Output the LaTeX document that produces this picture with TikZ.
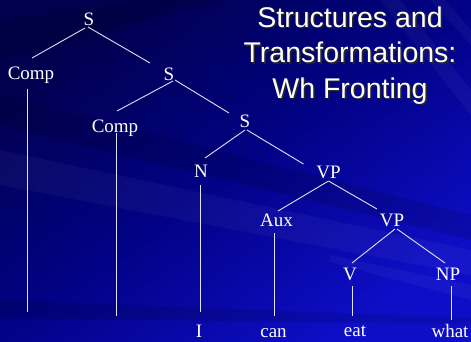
\documentclass[tikz,border=0pt]{standalone}
\usepackage{fontspec}
\setmainfont{Liberation Serif}
\newfontfamily\titlefont{Liberation Sans}
\usetikzlibrary{calc}
\definecolor{bgdark}{RGB}{0,0,78}
\definecolor{bgmid}{RGB}{2,2,135}
\definecolor{bglight}{RGB}{14,14,200}
\definecolor{linecol}{RGB}{225,225,240}
\newcommand\shadowline[1]{\makebox[0pt][l]{\kern1.6pt\raisebox{-1.6pt}{\color{black!85}#1}}#1}
\tikzset{
  lab/.style={anchor=base, text=white, font=\fontsize{19}{19}\selectfont, inner sep=0pt},
  branch/.style={draw=linecol, line width=0.9pt},
  titletext/.style={anchor=base, align=center, inner sep=0pt, text=white,
    font=\titlefont\fontsize{28.5}{35.5}\selectfont},
  darkband/.style={fill=black, opacity=0.12},
  lightband/.style={fill=white, opacity=0.04},
}
\begin{document}
\begin{tikzpicture}[x=1pt,y=-1pt]
\useasboundingbox (0,0) rectangle (471,341);
% background
\shade[top color=bgdark, bottom color=bglight, middle color=bgmid, shading angle=35]
  (0,0) rectangle (471,341);
\fill[darkband] (0,20) -- (140,0) -- (220,0) -- (0,60) -- cycle;
\fill[darkband] (0,95) -- (471,215) -- (471,240) -- (0,125) -- cycle;
\fill[lightband] (0,150) -- (471,250) -- (471,275) -- (0,185) -- cycle;
\fill[lightband] (330,255) -- (471,285) -- (471,300) -- (330,262) -- cycle;
\fill[darkband] (0,300) -- (471,318) -- (471,324) -- (0,318) -- cycle;
\fill[lightband] (380,0) -- (400,0) -- (471,90) -- (471,115) -- cycle;
\fill[lightband] (430,0) -- (445,0) -- (471,30) -- (471,45) -- cycle;
% title
\node[titletext] (title) at (350,98)
  {\shadowline{Structures and}\\\shadowline{Transformations:}\\\shadowline{Wh Fronting}};
% tree labels
\node[lab] (S1) at (89,25) {S};
\node[lab] (C1) at (31,79) {Comp};
\node[lab] (S2) at (169,80) {S};
\node[lab] (C2) at (115,132) {Comp};
\node[lab] (S3) at (245,127) {S};
\node[lab] (N) at (201,177) {N};
\node[lab] (VP1) at (328.5,178) {VP};
\node[lab] (Aux) at (276.5,226) {Aux};
\node[lab] (VP2) at (392,226) {VP};
\node[lab] (V) at (350,280) {V};
\node[lab] (NP) at (448,280) {NP};
\node[lab] (I) at (199,337) {I};
\node[lab] (can) at (273.5,337) {can};
\node[lab] (eat) at (355,336) {eat};
\node[lab] (what) at (450,337) {what};
\coordinate (t1) at (27,312);
\coordinate (t2) at (116,316);
% branches
\draw[branch] ($(S1.base)+(-4,3)$) -- ($(C1.base)+(1,-21)$);
\draw[branch] ($(S1.base)+(-1,2)$) -- ($(S2.base)+(-19,-17)$);
\draw[branch] ($(S2.base)+(4,1)$) -- ($(C2.base)+(2,-21)$);
\draw[branch] ($(S2.base)+(6,0)$) -- ($(S3.base)+(-16,-14)$);
\draw[branch] ($(S3.base)+(0,3)$) -- ($(N.base)+(4,-19)$);
\draw[branch] ($(S3.base)+(2,3)$) -- ($(VP1.base)+(-25,-14)$);
\draw[branch] ($(VP1.base)+(0,3)$) -- ($(Aux.base)+(1.5,-15)$);
\draw[branch] ($(VP1.base)+(0,3)$) -- ($(VP2.base)+(-15,-17)$);
\draw[branch] ($(VP2.base)+(3,3)$) -- ($(V.base)+(2,-17)$);
\draw[branch] ($(VP2.base)+(5,3)$) -- ($(NP.base)+(-3,-17)$);
% vertical lines
\draw[branch] ($(C1.base)+(-4,10)$) -- (t1);
\draw[branch] ($(C2.base)+(1,1)$) -- (t2);
\draw[branch] ($(N.base)+(-1,8)$) -- ($(I.base)+(1,-25)$);
\draw[branch] ($(Aux.base)+(-2.5,7)$) -- ($(can.base)+(0.5,-21)$);
\draw[branch] ($(V.base)+(2,6)$) -- ($(eat.base)+(-3,-20)$);
\draw[branch] ($(NP.base)+(3,6)$) -- ($(what.base)+(1,-17)$);
\end{tikzpicture}
\end{document}
